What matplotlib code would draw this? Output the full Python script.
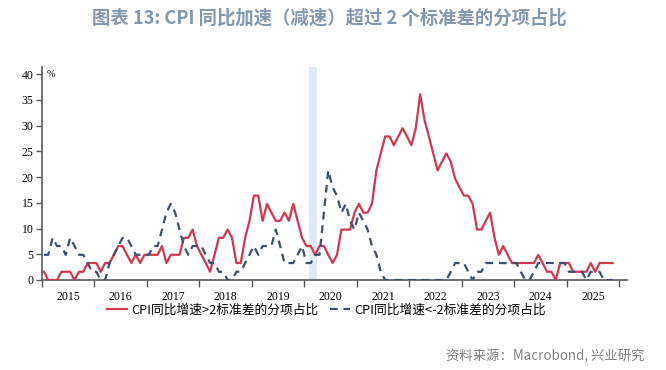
import matplotlib
matplotlib.use("Agg")
import matplotlib.pyplot as plt
import numpy as np

# share of CPI items (%), monthly Jan 2015 - Nov 2025
unit = 100.0 / 61.0
red_units = [
    1,0,0,0,1,1,1,0,1,1,2,2,
    2,1,2,2,3,4,4,3,2,3,2,3,
    3,3,3,4,2,3,3,3,5,5,6,4,
    3,2,1,3,5,5,6,5,2,2,5,7,
    10,10,7,9,8,7,7,8,7,9,7,5,
    4,4,3,4,4,3,2,3,6,6,6,8,
    9,8,8,9,13,15,17,17,16,17,18,17,
    16,18,22,19,17,15,13,14,15,14,12,11,
    10,10,9,6,6,7,8,5,3,4,3,2,
    2,2,2,2,2,3,2,1,1,0,2,2,
    2,1,1,1,1,2,1,2,2,2,2,
]
blue_units = [
    3,3,5,4,4,3,5,4,3,3,2,1,
    1,0,0,2,3,4,5,5,4,3,3,3,
    3,4,4,6,8,9,8,6,4,3,4,4,
    4,3,2,2,1,1,0,0,1,1,2,3,
    4,3,4,4,4,6,4,2,2,2,3,4,
    2,2,3,3,8,13,11,10,8,9,7,6,
    8,7,6,4,3,1,0,0,0,0,0,0,
    0,0,0,0,0,0,0,0,0,1,2,2,
    2,1,0,1,1,2,2,2,2,2,2,2,
    2,1,0,0,1,2,2,2,2,2,2,2,
    1,1,1,1,0,1,1,1,0,0,0,
]
red_vals = [round(u * unit, 1) for u in red_units]
blue_vals = [round(u * unit, 1) for u in blue_units]
start_year = 2015
years = list(range(2015, 2026))
yticks = [0, 5, 10, 15, 20, 25, 30, 35, 40]
band = (2020 + 1/12, 2020 + 3/12)

title = "图表 13: CPI 同比加速（减速）超过 2 个标准差的分项占比"
label_red = "CPI同比增速>2标准差的分项占比"
label_blue = "CPI同比增速<-2标准差的分项占比"
source = "资料来源：Macrobond, 兴业研究"

cjk = ["Noto Sans CJK SC", "DejaVu Sans"]
serif = ["Liberation Serif", "DejaVu Serif"]

x = [start_year + (i + 0.5) / 12 for i in range(len(red_vals))]

fig = plt.figure(figsize=(6.66, 3.70), dpi=100)
ax = fig.add_axes([41.7/666, 1 - 280/370, (626.7-41.7)/666, (280-67)/370])

ax.axvspan(band[0], band[1], color="#e1e9f4", lw=0, zorder=0)
ax.plot(x, red_vals, color="#d0384f", lw=1.6, zorder=3, label=label_red)
ax.plot(x, blue_vals, color="#3d4f6f", lw=1.6, dashes=(3.5, 2.6), zorder=4, label=label_blue)

ax.set_xlim(2015, 2015 + 585/52.5)
ax.set_ylim(0, 41.4)

ax.set_yticks(yticks)
ax.set_yticklabels([str(v) for v in yticks], fontfamily=serif, fontsize=8.5)
ax.set_xticks(list(range(2015, 2027)))
ax.set_xticklabels([])
ax.set_xticks([y + 0.5 for y in years], minor=True)
ax.set_xticklabels([str(y) for y in years], minor=True, fontfamily=serif, fontsize=8.5)
ax.tick_params(axis="x", which="major", direction="out", length=5, width=1, color="#595959")
ax.tick_params(axis="x", which="minor", length=0, pad=8)
ax.tick_params(axis="y", direction="out", length=4, width=1, color="#595959", pad=2)

for s in ["top", "right"]:
    ax.spines[s].set_visible(False)
for s in ["left", "bottom"]:
    ax.spines[s].set_color("#595959")
    ax.spines[s].set_linewidth(1.2)

ax.text(0.009, 40, "%", fontfamily=serif, fontsize=7.5, va="center", ha="left",
        transform=ax.get_yaxis_transform())

fig.text(329/666, 1 - 18/370, title, fontfamily=cjk, fontsize=13.2, fontweight="bold",
         color="#8497b0", ha="center", va="center")

fig.legend(loc="center", bbox_to_anchor=(326/666, 1 - 310/370), ncol=2, frameon=False,
           prop={"family": cjk, "size": 9.2}, handlelength=1.6, handletextpad=0.3,
           columnspacing=0.9)

fig.text(645/666, 1 - 356/370, source, fontfamily=cjk, fontsize=9.6, color="#808080",
         ha="right", va="center")

fig.savefig("out.png", dpi=100)
